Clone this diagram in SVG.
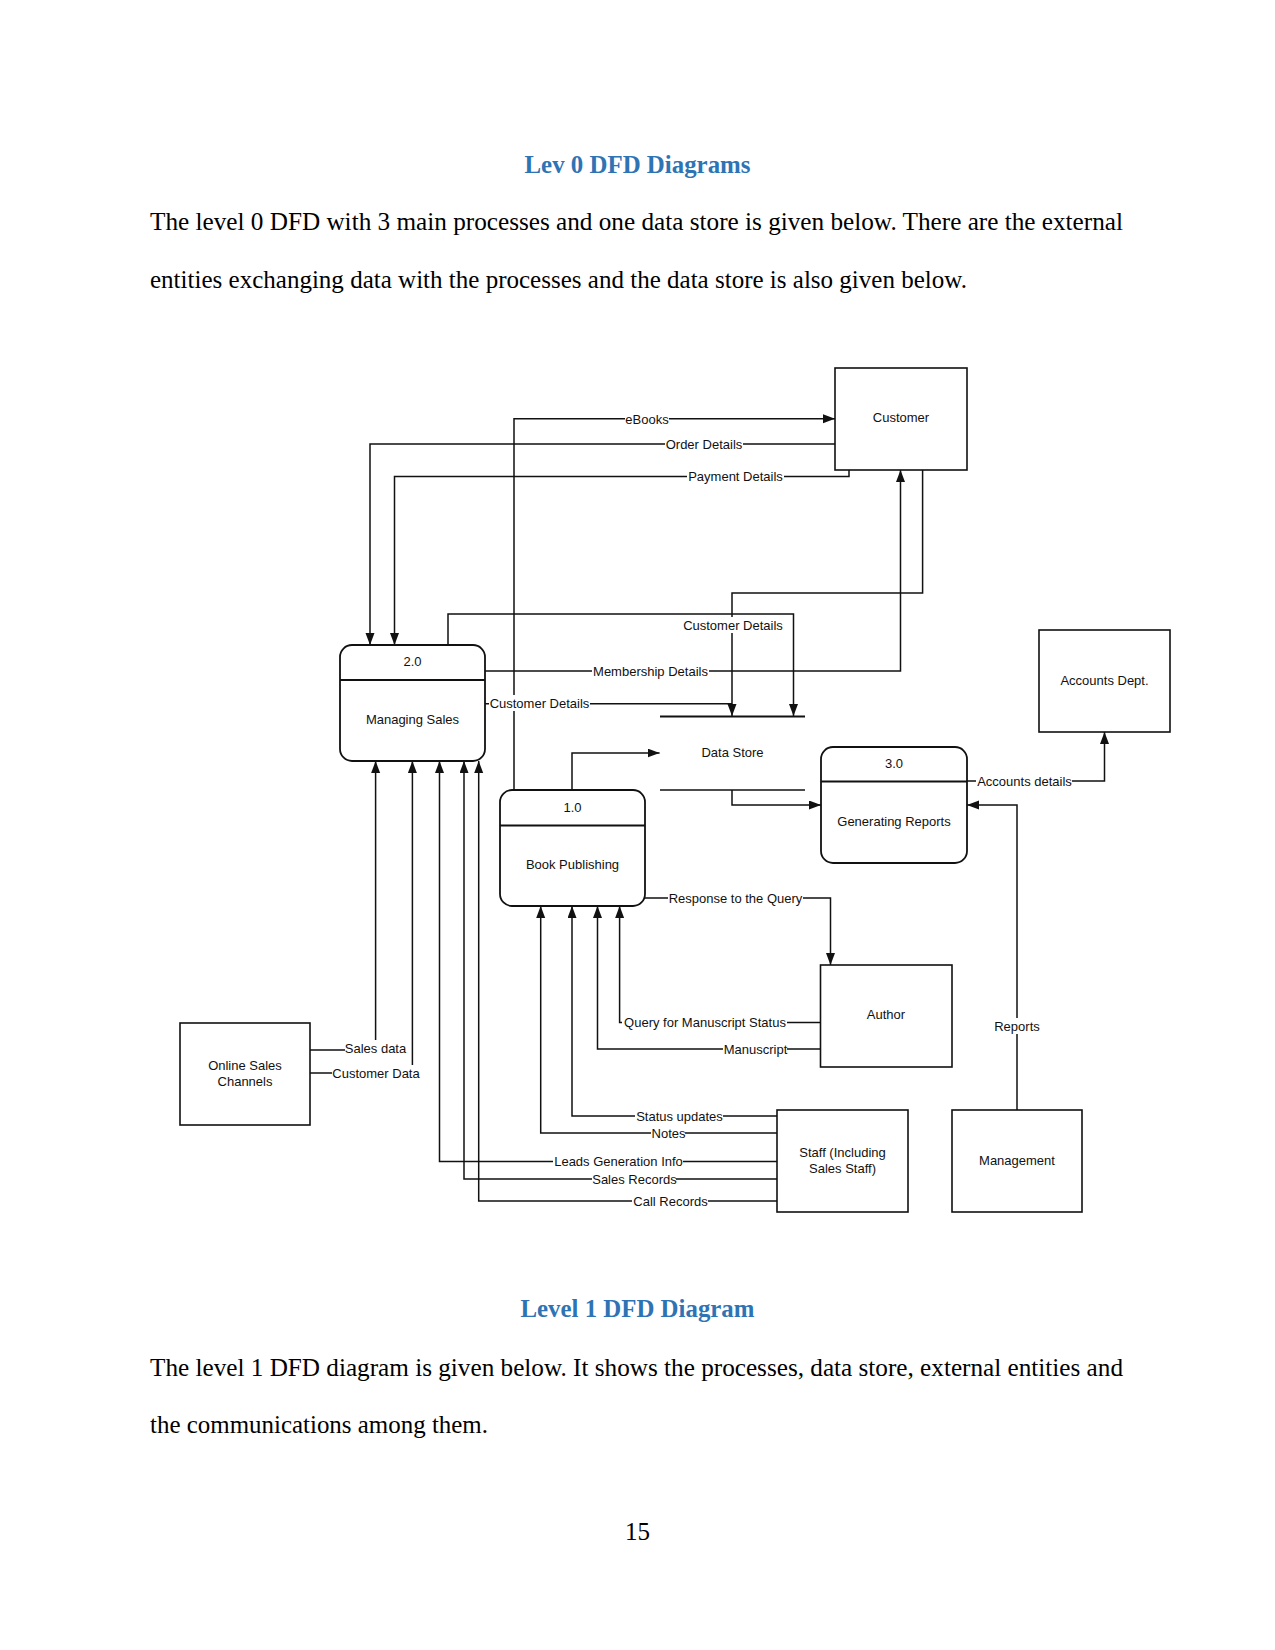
<svg xmlns="http://www.w3.org/2000/svg" width="1275" height="1650" viewBox="0 0 1275 1650">
<defs>
<style>
.doc{font-family:"Liberation Serif","Times New Roman",serif;font-size:25px;fill:#000}
.hd{font-family:"Liberation Serif","Times New Roman",serif;font-size:25px;font-weight:bold;fill:#2E74B5}
.box{fill:#fff;stroke:#111;stroke-width:1.6}
.proc{fill:#fff;stroke:#111;stroke-width:1.8}
.nt{font-family:"Liberation Sans",Arial,sans-serif;font-size:13px;fill:#111;text-anchor:middle;dominant-baseline:central}
.lb{font-family:"Liberation Sans",Arial,sans-serif;font-size:13px;fill:#111;text-anchor:middle;dominant-baseline:central}
.bg{fill:#fff}
.cn{fill:none;stroke:#111;stroke-width:1.5}
.ds{fill:none;stroke:#111;stroke-width:2}
</style>
<marker id="ah" markerUnits="userSpaceOnUse" markerWidth="12" markerHeight="10" refX="12" refY="4.5" orient="auto">
<path d="M0,0 L12,4.5 L0,9 z" fill="#111"/>
</marker>
</defs>
<rect width="1275" height="1650" fill="#fff"/>

<g id="page-text">
<text class="hd" x="637.5" y="173" text-anchor="middle" textLength="226" lengthAdjust="spacingAndGlyphs">Lev 0 DFD Diagrams</text>
<text class="doc" x="150" y="230" textLength="973" lengthAdjust="spacingAndGlyphs">The level 0 DFD with 3 main processes and one data store is given below. There are the external</text>
<text class="doc" x="150" y="288" textLength="817" lengthAdjust="spacingAndGlyphs">entities exchanging data with the processes and the data store is also given below.</text>
<text class="hd" x="637.5" y="1317" text-anchor="middle" textLength="234" lengthAdjust="spacingAndGlyphs">Level 1 DFD Diagram</text>
<text class="doc" x="150" y="1376" textLength="973" lengthAdjust="spacingAndGlyphs">The level 1 DFD diagram is given below. It shows the processes, data store, external entities and</text>
<text class="doc" x="150" y="1433" textLength="338" lengthAdjust="spacingAndGlyphs">the communications among them.</text>
<text class="doc" x="637.5" y="1540" text-anchor="middle">15</text>
</g>

<g id="connectors">
<path class="cn" d="M514,790 V418.7 H835" marker-end="url(#ah)"/>
<path class="cn" d="M835,444 H370 V645" marker-end="url(#ah)"/>
<path class="cn" d="M849,470 V476.6 H394.5 V645" marker-end="url(#ah)"/>
<path class="cn" d="M922.6,470 V593 H732 V716" marker-end="url(#ah)"/>
<path class="cn" d="M448,645 V614 H793.5 V716" marker-end="url(#ah)"/>
<path class="cn" d="M485,671 H900.5 V470" marker-end="url(#ah)"/>
<path class="cn" d="M485,703.8 H732"/>
<path class="cn" d="M572,790 V753 H659.6" marker-end="url(#ah)"/>
<path class="cn" d="M732,790 V805 H821" marker-end="url(#ah)"/>
<path class="cn" d="M967,781 H1104.5 V732" marker-end="url(#ah)"/>
<path class="cn" d="M1017,1110 V805 H967" marker-end="url(#ah)"/>
<path class="cn" d="M645,898 H830.5 V965" marker-end="url(#ah)"/>
<path class="cn" d="M820.5,1022.6 H619.6 V906" marker-end="url(#ah)"/>
<path class="cn" d="M820.5,1049 H597.5 V906" marker-end="url(#ah)"/>
<path class="cn" d="M777,1116 H572 V906" marker-end="url(#ah)"/>
<path class="cn" d="M777,1133 H540.7 V906" marker-end="url(#ah)"/>
<path class="cn" d="M777,1161.4 H439.5 V761" marker-end="url(#ah)"/>
<path class="cn" d="M777,1179 H464 V761" marker-end="url(#ah)"/>
<path class="cn" d="M777,1201 H478.7 V761" marker-end="url(#ah)"/>
<path class="cn" d="M310,1050 H375.6 V761" marker-end="url(#ah)"/>
<path class="cn" d="M310,1073 H412.4 V761" marker-end="url(#ah)"/>

<g id="labels">
<rect class="bg" x="625" y="411" width="44" height="16"/><text class="lb" x="647" y="419">eBooks</text>
<rect class="bg" x="665" y="436" width="78" height="16"/><text class="lb" x="704" y="444">Order Details</text>
<rect class="bg" x="687" y="469" width="97" height="16"/><text class="lb" x="735.5" y="476.6">Payment Details</text>
<rect class="bg" x="683" y="617" width="100" height="16"/><text class="lb" x="733" y="625">Customer Details</text>
<rect class="bg" x="592" y="663" width="117" height="16"/><text class="lb" x="650.5" y="671">Membership Details</text>
<rect class="bg" x="489" y="695" width="101" height="16"/><text class="lb" x="539.5" y="703">Customer Details</text>
<rect class="bg" x="976" y="773" width="96" height="16"/><text class="lb" x="1024.5" y="781">Accounts details</text>
<rect class="bg" x="993" y="1018" width="48" height="16"/><text class="lb" x="1017" y="1026">Reports</text>
<rect class="bg" x="668" y="890" width="135" height="16"/><text class="lb" x="735.5" y="898">Response to the Query</text>
<rect class="bg" x="622" y="1014" width="165" height="16"/><text class="lb" x="705" y="1022.6">Query for Manuscript Status</text>
<rect class="bg" x="723" y="1041" width="64" height="16"/><text class="lb" x="755.5" y="1049">Manuscript</text>
<rect class="bg" x="635" y="1108" width="88" height="16"/><text class="lb" x="679.5" y="1116">Status updates</text>
<rect class="bg" x="651" y="1126" width="34" height="15"/><text class="lb" x="668.5" y="1133">Notes</text>
<rect class="bg" x="553" y="1154" width="130" height="15"/><text class="lb" x="618.5" y="1161.4">Leads Generation Info</text>
<rect class="bg" x="592" y="1171" width="84" height="16"/><text class="lb" x="634.5" y="1179">Sales Records</text>
<rect class="bg" x="632" y="1193" width="76" height="16"/><text class="lb" x="670.5" y="1201">Call Records</text>
<rect class="bg" x="345" y="1040" width="61" height="16"/><text class="lb" x="375.5" y="1048">Sales data</text>
<rect class="bg" x="332" y="1065" width="88" height="16"/><text class="lb" x="376" y="1073">Customer Data</text>
</g>
</g>

<g id="customer">
<rect class="box" x="835" y="368" width="132" height="102"/>
<text class="nt" x="901" y="417">Customer</text>
</g>
<g id="accounts-dept">
<rect class="box" x="1039" y="630" width="131" height="102"/>
<text class="nt" x="1104.5" y="680">Accounts Dept.</text>
</g>
<g id="managing-sales">
<rect class="proc" x="340" y="645" width="145" height="116" rx="12"/>
<line class="proc" x1="340" y1="680" x2="485" y2="680"/>
<text class="nt" x="412.5" y="661">2.0</text>
<text class="nt" x="412.5" y="719">Managing Sales</text>
</g>
<g id="data-store">
<line class="ds" x1="660" y1="716.5" x2="805" y2="716.5"/>
<line class="cn" x1="660" y1="790" x2="805" y2="790"/>
<text class="nt" x="732.5" y="752.5">Data Store</text>
</g>
<g id="book-publishing">
<rect class="proc" x="500" y="790" width="145" height="116" rx="12"/>
<line class="proc" x1="500" y1="825.5" x2="645" y2="825.5"/>
<text class="nt" x="572.5" y="807">1.0</text>
<text class="nt" x="572.5" y="864.5">Book Publishing</text>
</g>
<g id="generating-reports">
<rect class="proc" x="821" y="747" width="146" height="116" rx="12"/>
<line class="proc" x1="821" y1="781.5" x2="967" y2="781.5"/>
<text class="nt" x="894" y="763">3.0</text>
<text class="nt" x="894" y="821">Generating Reports</text>
</g>
<g id="author">
<rect class="box" x="820.5" y="965" width="131.5" height="102"/>
<text class="nt" x="886" y="1014">Author</text>
</g>
<g id="online-sales-channels">
<rect class="box" x="180" y="1023" width="130" height="102"/>
<text class="nt" x="245" y="1065">Online Sales</text>
<text class="nt" x="245" y="1081">Channels</text>
</g>
<g id="staff">
<rect class="box" x="777" y="1110" width="131" height="102"/>
<text class="nt" x="842.5" y="1152.5">Staff (Including</text>
<text class="nt" x="842.5" y="1168.5">Sales Staff)</text>
</g>
<g id="management">
<rect class="box" x="952" y="1110" width="130" height="102"/>
<text class="nt" x="1017" y="1160">Management</text>
</g>
</svg>
